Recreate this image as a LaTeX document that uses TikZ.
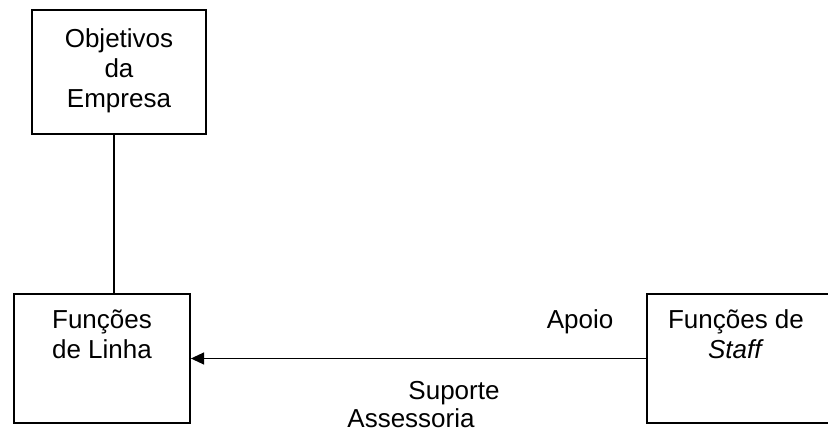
\documentclass[tikz,border=0pt]{standalone}
\usepackage{fontspec}
\setmainfont{Liberation Sans}
\usetikzlibrary{positioning,arrows.meta}

\begin{document}
\begin{tikzpicture}[x=0.75pt,y=-0.75pt,line width=1.3pt,font=\fontsize{19.5}{22.5}\selectfont,box node/.style={draw,rectangle,inner sep=0pt,minimum height=96.75pt},text node/.style={align=center,inner sep=0pt,anchor=north},label node/.style={inner sep=0pt,anchor=base}]
\useasboundingbox (0,0) rectangle (828,434);
\node[box node,minimum width=130.5pt,minimum height=93pt] (1) at (119,72) {};
\node[box node,minimum width=132pt] (2) at (102,358.5) {};
\node[box node,minimum width=140.25pt] (3) at (740.5,358.5) {};

\node[text node] (4) [below=14.3pt of 1.north] {Objetivos\\da\\Empresa};
\node[text node] (5) [below=11.75pt of 2.north] {Funções\\de Linha};
\node[text node] (6) [below=11.75pt of 3.north,xshift=-3.4pt] {Funções de\\\textit{Staff}};

\node[label node] (7) at (580,328.5) {Apoio};
\node[label node] (8) at (454,400) {Suporte};
\node[label node] (9) at (411,427.5) {Assessoria};

\path[draw]
([xshift=-3.75pt]1.south) edge ([xshift=-3.75pt]1.south |- 2.north)
(3) edge[-{Triangle[length=10pt,width=9pt]}] (2)
;
\end{tikzpicture}
\end{document}
